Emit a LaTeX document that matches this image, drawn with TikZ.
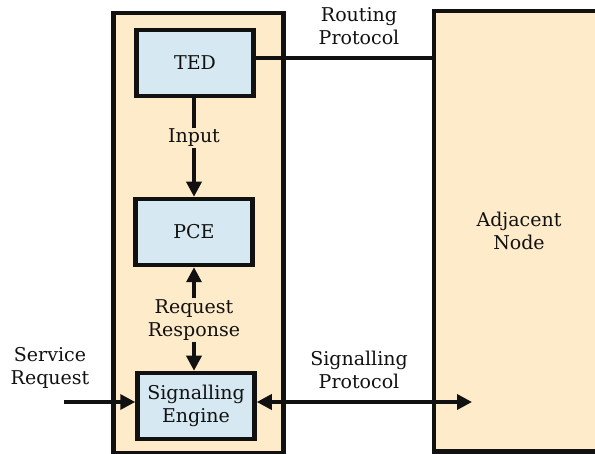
\documentclass[tikz,border=0pt]{standalone}
\usepackage{fontspec}
\setmainfont{DejaVu Serif}
\usetikzlibrary{arrows.meta,calc}
\definecolor{peach}{HTML}{FDEBC9}
\definecolor{paleblue}{HTML}{D6E9F2}
\definecolor{ink}{HTML}{111111}
\tikzset{
  x=1pt, y=1pt,
  every node/.style={text=ink, font=\fontsize{19}{23}\selectfont},
  unit/.style={fill=peach, draw=ink, line width=4.5pt, inner sep=0pt},
  block/.style={fill=paleblue, draw=ink, line width=4.5pt, minimum width=117pt,
    minimum height=66pt, align=center, inner sep=0pt},
  lbl/.style={align=center, inner sep=1pt},
  flow/.style={draw=ink, line width=3.5pt, -{Triangle[length=15pt,width=15pt]}},
  link/.style={draw=ink, line width=3.5pt},
}
\begin{document}
\begin{tikzpicture}
\useasboundingbox (0,0) rectangle (595,-454);

% node housing the control functions
\node[unit, anchor=north west, minimum width=170pt, minimum height=440pt]
  (ctrl) at (111,-11) {};

% neighbouring node, open to the right
\node[fill=peach, draw=none, inner sep=0pt, anchor=north west,
  minimum width=170pt, minimum height=440pt] (adj) at (434,-11) {};
\draw[ink, line width=4.5pt]
  (adj.north east) -- (adj.north west) -- (adj.south west) -- (adj.south east);
\node[lbl] (adjname) at (519,-231) {Adjacent\\Node};

% functional blocks
\node[block] (ted) at (195,-63) {TED};
\node[block] (pce) at (194,-232) {PCE};
\node[block] (se)  at (196,-406) {Signalling\\Engine};

% TED feeds the PCE
\node[lbl] (input) at (194,-138) {Input};
\draw[link] (ted.south -| input) -- (input.north);
\draw[flow] (input.south) -- (input.south |- pce.north);

% request / response exchange between signalling engine and PCE
\node[lbl] (reqres) at (194,-320) {Request\\Response};
\draw[flow] (reqres.north) -- (reqres.north |- pce.south);
\draw[flow] (reqres.south) -- (reqres.south |- se.north);

% incoming service request
\node[lbl] (svc) at (50,-368) {Service\\Request};
\coordinate (svcin) at (64,-402);
\draw[flow] (svcin) -- (svcin -| se.west);

% routing protocol towards the adjacent node
\node[lbl] (routing) at (359,-26) {Routing\\Protocol};
\coordinate (rtstart) at ($(ted.east)+(0,5)$);
\draw[link] (rtstart) -- (rtstart -| adj.west);

% signalling protocol towards the adjacent node
\node[lbl] (sigproto) at (359,-370) {Signalling\\Protocol};
\coordinate (sigend) at (472,-402);
\draw[flow, {Triangle[length=15pt,width=15pt]}-{Triangle[length=15pt,width=15pt]}]
  (sigend -| se.east) -- (sigend);
\end{tikzpicture}
\end{document}
